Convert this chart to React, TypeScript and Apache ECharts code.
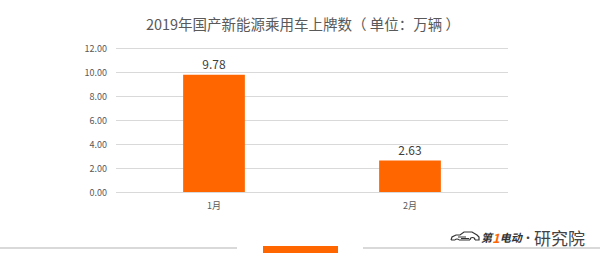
import React, { useEffect, useRef } from "react";
import * as echarts from "echarts";

const TITLE = "2019年国产新能源乘用车上牌数（ 单位：万辆 ）";
const categories = ["1月", "2月"];
const values = [9.78, 2.63];
const yMin = 0;
const yMax = 12;
const yInterval = 2;

const CAR_PATH =
  "M1 9 L2 6 L6 4 L10 4 L14 1 L22 1 L27 4 L29 6 L29 9 L25 9 " +
  "M20 9 L9 9 M5 9 L1 9 " +
  "M5 9 A2.5 2.5 0 0 1 9 9 M20 9 A2.5 2.5 0 0 1 25 9 " +
  "M8 6 L16 6 M11 7.5 L19 7.5";

let registered = false;

export default function App() {
  const ref = useRef<HTMLDivElement>(null);
  useEffect(() => {
    if (!ref.current) return;
    if (!registered) {
      echarts.graphic.registerShape("carlogo", echarts.graphic.extendPath(CAR_PATH, {}));
      registered = true;
    }
    const chart = echarts.init(ref.current, undefined, { renderer: "svg" });
    const font = "'Noto Sans CJK SC', 'Noto Sans', sans-serif";
    chart.setOption({
      animation: false,
      backgroundColor: "#ffffff",
      textStyle: { fontFamily: font },
      title: {
        text: TITLE,
        left: 298,
        textAlign: "center",
        top: 11,
        textStyle: { fontSize: 14.5, fontWeight: "normal", color: "#595959", fontFamily: font },
      },
      grid: { left: 116, right: 92, top: 48, bottom: 80, containLabel: false },
      xAxis: {
        type: "category",
        data: categories,
        axisLine: { show: false },
        axisTick: { show: false },
        axisLabel: { color: "#595959", fontSize: 9, margin: 9, fontFamily: font },
      },
      yAxis: {
        type: "value",
        min: yMin,
        max: yMax,
        interval: yInterval,
        axisLine: { show: false },
        axisTick: { show: false },
        axisLabel: {
          color: "#595959",
          fontSize: 9,
          margin: 9,
          fontFamily: font,
          formatter: (v: number) => v.toFixed(2),
        },
        splitLine: { lineStyle: { color: "#d9d9d9", width: 1 } },
      },
      series: [
        {
          type: "bar",
          data: values,
          barWidth: "31.5%",
          itemStyle: { color: "#ff6600" },
          label: {
            show: true,
            position: "top",
            distance: 5,
            color: "#404040",
            fontSize: 12,
            fontFamily: font,
            formatter: (p: any) => Number(p.value).toFixed(2),
          },
        },
      ],
      graphic: [
        {
          type: "rect",
          shape: { x: 0, y: 247, width: 237, height: 2 },
          style: { fill: "#d9d9d9" },
          silent: true,
        },
        {
          type: "rect",
          shape: { x: 363, y: 247, width: 237, height: 2 },
          style: { fill: "#d9d9d9" },
          silent: true,
        },
        {
          type: "rect",
          shape: { x: 263, y: 246, width: 75, height: 7 },
          style: { fill: "#ff6600" },
          silent: true,
        },
        {
          type: "carlogo",
          x: 450,
          y: 231,
          scaleX: 1,
          scaleY: 1,
          style: { stroke: "#333333", fill: "transparent", lineWidth: 1.2 },
          silent: true,
        },
        {
          type: "text",
          x: 481,
          y: 237,
          style: {
            text: "{a|第}{b|1}{a|电动}",
            verticalAlign: "middle",
            align: "left",
            rich: {
              a: { fill: "#333333", font: "italic bold 11px 'Noto Sans CJK SC'" },
              b: { fill: "#ff6600", font: "italic bold 13px 'Noto Sans CJK SC'" },
            },
          },
          silent: true,
        },
        {
          type: "text",
          x: 522,
          y: 237,
          style: {
            text: "•",
            fill: "#444444",
            font: "12px 'Noto Sans CJK SC'",
            verticalAlign: "middle",
            align: "left",
          },
          silent: true,
        },
        {
          type: "text",
          x: 534,
          y: 237,
          style: {
            text: "研究院",
            fill: "#444444",
            font: "17px 'Noto Sans CJK SC'",
            verticalAlign: "middle",
            align: "left",
          },
          silent: true,
        },
      ],
    });
    return () => chart.dispose();
  }, []);
  return (
    <div
      ref={ref}
      style={{ position: "fixed", left: 0, top: 0, width: 600, height: 272 }}
    />
  );
}
